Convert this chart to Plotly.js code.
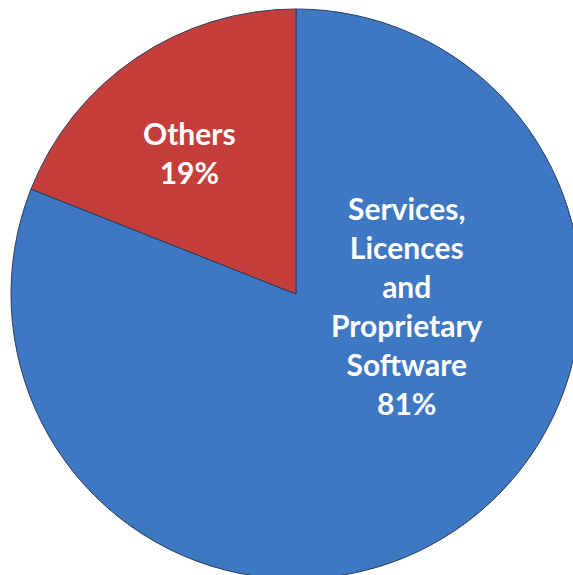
<!DOCTYPE html>
<html>
<head>
<meta charset="utf-8">
<script src="https://cdn.plot.ly/plotly-3.0.1.min.js"></script>
<style>
html,body{margin:0;padding:0;overflow:hidden;background:#fff;width:573px;height:575px;}
#chart{width:600px;height:600px;}
</style>
</head>
<body>
<div id="chart"></div>
<script>
const labels = ["Services,<br>Licences<br>and<br>Proprietary<br>Software", "Others"];
const values = [81, 19];
const colors = ["#3e77c2", "#c43f3c"];

const W = 600, H = 600;
const cx = 296, cy = 294, r = 285;

const data = [{
  type: "pie",
  labels: labels,
  values: values,
  sort: false,
  direction: "clockwise",
  rotation: 0,
  textinfo: "none",
  hoverinfo: "label+percent",
  marker: {colors: colors, line: {color: "#2a3d5c", width: 1}},
  domain: {x: [(cx - r) / W, (cx + r) / W], y: [(H - cy - r) / H, (H - cy + r) / H]},
  showlegend: false
}];

const labelPos = [[407, 305], [189, 152]];
const annotations = labels.map((l, i) => ({
  xref: "paper", yref: "paper",
  x: labelPos[i][0] / W, y: 1 - labelPos[i][1] / H,
  xanchor: "center", yanchor: "middle",
  text: l + "<br>" + values[i] + "%",
  showarrow: false,
  align: "center",
  font: {family: "Lato, 'Open Sans', sans-serif", size: 30, color: "#ffffff", weight: "bold"}
}));

Plotly.newPlot("chart", data, {
  width: W, height: H,
  margin: {l: 0, r: 0, t: 0, b: 0},
  paper_bgcolor: "#ffffff",
  annotations: annotations
}, {displayModeBar: false, staticPlot: true});
</script>
</body>
</html>
